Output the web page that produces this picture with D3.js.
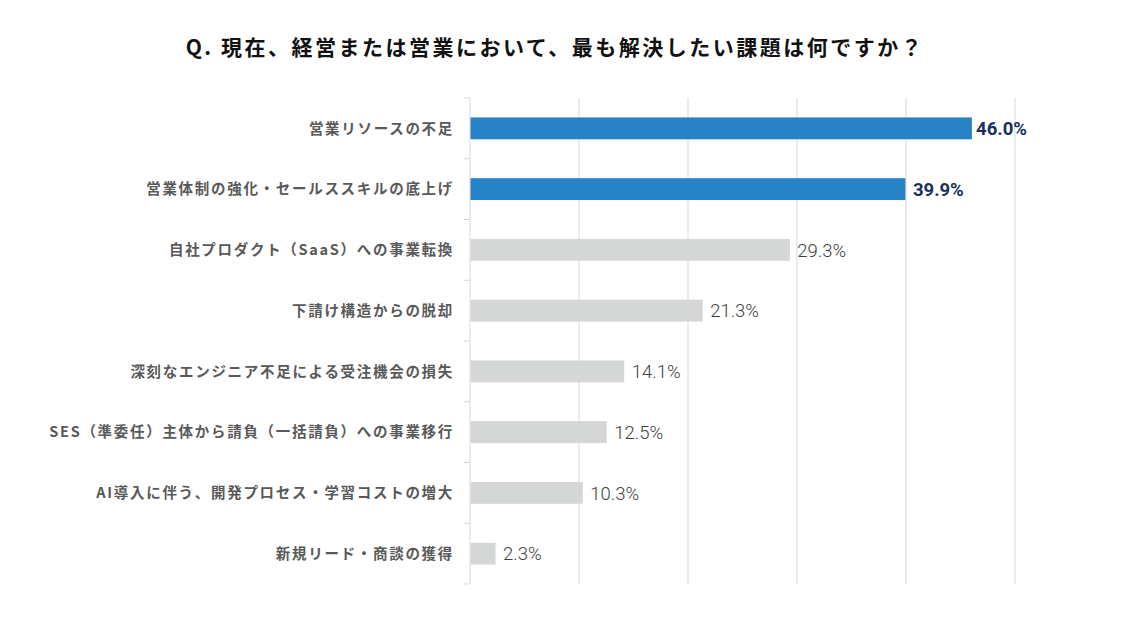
<!DOCTYPE html>
<html>
<head>
<meta charset="utf-8">
<script src="https://cdn.jsdelivr.net/npm/d3@7"></script>
<style>
  body { margin: 0; background: #fff; }
  svg { display: block; }
</style>
</head>
<body>
<svg width="1121" height="626"></svg>
<script>
const svg = d3.select("svg"),
	width = +svg.attr("width"),
	height = +svg.attr("height");

const title = "Q. 現在、経営または営業において、最も解決したい課題は何ですか？"
const categories = [
	"営業リソースの不足",
	"営業体制の強化・セールススキルの底上げ",
	"自社プロダクト（SaaS）への事業転換",
	"下請け構造からの脱却",
	"深刻なエンジニア不足による受注機会の損失",
	"SES（準委任）主体から請負（一括請負）への事業移行",
	"AI導入に伴う、開発プロセス・学習コストの増大",
	"新規リード・商談の獲得"
]
const values = [46.0, 39.9, 29.3, 21.3, 14.1, 12.5, 10.3, 2.3]
const highlighted = [true, true, false, false, false, false, false, false]
const gridTicks = [0, 10, 20, 30, 40, 50]

const margin = { top: 98, right: 106, bottom: 42, left: 470 }
const plotRight = width - margin.right
const labelLimit = 1027

const rows = categories.map((c, i) => ({ name: c, value: values[i], hi: highlighted[i] }))

const x = d3.scaleLinear()
	.domain([0, 50])
	.range([margin.left, plotRight])

const y = d3.scaleBand()
	.domain(categories)
	.range([margin.top, height - margin.bottom])
	.paddingInner(0.64)
	.paddingOuter(0.32)

// title
svg.append("text")
	.attr("x", 555)
	.attr("y", 55)
	.attr("text-anchor", "middle")
	.attr("font-family", "'Noto Sans CJK JP', sans-serif")
	.attr("font-weight", "bold")
	.attr("font-size", 21)
	.attr("letter-spacing", 2.5)
	.attr("fill", "#111")
	.text(title)

// vertical grid lines
svg.append("g")
	.selectAll("line")
	.data(gridTicks.slice(1))
	.join("line")
	.attr("x1", d => x(d))
	.attr("x2", d => x(d))
	.attr("y1", margin.top)
	.attr("y2", height - margin.bottom)
	.attr("stroke", "#d9d9d9")
	.attr("stroke-width", 1)

// category axis with ticks between bands
const step = y.step()
const bounds = d3.range(categories.length + 1).map(i => margin.top + i * step)

const axis = svg.append("g")
axis.append("line")
	.attr("x1", x(0))
	.attr("x2", x(0))
	.attr("y1", margin.top)
	.attr("y2", height - margin.bottom)
	.attr("stroke", "#d9d9d9")
axis.selectAll(".tick")
	.data(bounds)
	.join("line")
	.attr("class", "tick")
	.attr("x1", x(0) - 6)
	.attr("x2", x(0))
	.attr("y1", d => d)
	.attr("y2", d => d)
	.attr("stroke", "#d9d9d9")

axis.selectAll(".cat")
	.data(rows)
	.join("text")
	.attr("class", "cat")
	.attr("x", x(0) - 16)
	.attr("y", d => y(d.name) + y.bandwidth() / 2)
	.attr("dy", "0.36em")
	.attr("text-anchor", "end")
	.attr("font-family", "'Noto Sans CJK JP', sans-serif")
	.attr("font-weight", "bold")
	.attr("font-size", 14.5)
	.attr("letter-spacing", 1.7)
	.attr("fill", "#595959")
	.text(d => d.name)

// bars
svg.append("g")
	.selectAll("rect")
	.data(rows)
	.join("rect")
	.attr("x", x(0) + 0.5)
	.attr("y", d => y(d.name))
	.attr("width", d => x(d.value) - x(0))
	.attr("height", y.bandwidth())
	.attr("fill", d => d.hi ? "#2683c6" : "#d5d7d7")

// value labels
const labels = svg.append("g")
	.selectAll("text")
	.data(rows)
	.join("text")
	.attr("y", d => y(d.name) + y.bandwidth() / 2)
	.attr("dy", "0.36em")
	.attr("font-family", "Roboto, 'Noto Sans', sans-serif")
	.attr("font-weight", d => d.hi ? "bold" : "300")
	.attr("font-size", 18.5)
	.attr("fill", d => d.hi ? "#1b2f5e" : "#404040")
	.text(d => d.value.toFixed(1) + "%")

labels.attr("x", function (d) {
	const w = this.getComputedTextLength()
	return Math.min(x(d.value) + 8, labelLimit - w)
})
</script>
</body>
</html>
